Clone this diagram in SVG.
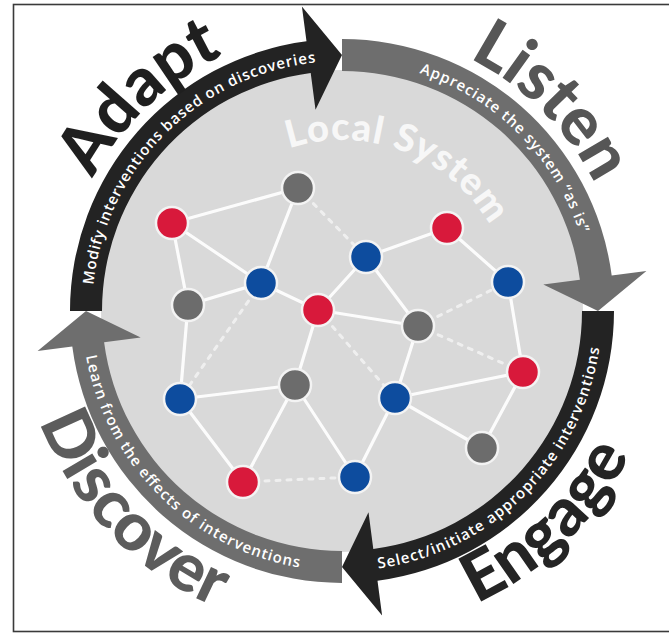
<svg xmlns="http://www.w3.org/2000/svg" width="669" height="638" viewBox="0 0 669 638">
<style>
.big{font-family:"Lato","Open Sans","Liberation Sans",sans-serif;font-weight:900;font-size:67px}
.small{font-family:"Open Sans","Liberation Sans",sans-serif;font-weight:600;font-size:15px;fill:#ffffff}
.edge{stroke:#ffffff;stroke-width:3.2;stroke-linecap:round;opacity:0.92}
.dot{stroke:#ffffff;stroke-width:3;stroke-dasharray:4 7;stroke-linecap:round;opacity:0.6}
.node{stroke:#f3f3f3;stroke-width:2.5}
.red{fill:#d8193b}.blue{fill:#0d4c9e}.grey{fill:#6c6c6c}
.dark{fill:#232323}.mid{fill:#6e6e6e}
</style>
<defs>
<path id="pAdaptS" d="M93.4,284.9 A250,250 0 0,1 315.9,62.4"/>
<path id="pListenS" d="M419.3,73.2 A250,250 0 0,1 579.8,233.7"/>
<path id="pEngageS" d="M378.2,568.5 A260,260 0 0,0 599.5,347.2"/>
<path id="pDiscoverS" d="M86.0,356.1 A260,260 0 0,0 299.1,567.4"/>
<path id="pAdapt" d="M61.8,279.1 A282,282 0 0,1 324.8,29.5"/>
<path id="pListen" d="M366.7,29.1 A283,283 0 0,1 623.9,286.3"/>
<path id="pEngage" d="M364.5,632.2 A322,322 0 0,0 662.2,344.7"/>
<path id="pDiscover" d="M20.6,330.7 A322,322 0 0,0 305.5,630.9"/>
<path id="pLocal" d="M289.2,148.4 A171,171 0 0,1 491.6,228.1"/>
</defs>
<rect x="0" y="0" width="669" height="638" fill="#ffffff"/>
<rect x="13.5" y="4.5" width="700" height="627" fill="none" stroke="#3a3a3a" stroke-width="1.6"/>

<g id="disc">
<circle cx="342" cy="311" r="241" fill="#d9d9d9"/>
<text font-family="Lato,'Open Sans','Liberation Sans',sans-serif" font-weight="900" font-size="38" fill="#f7f7f7"><textPath href="#pLocal" textLength="232" lengthAdjust="spacing">Local System</textPath></text>
</g>

<g id="connectors">
<line class="edge" x1="172" y1="223" x2="298" y2="188"/>
<line class="edge" x1="172" y1="223" x2="261" y2="283"/>
<line class="edge" x1="298" y1="188" x2="261" y2="283"/>
<line class="edge" x1="172" y1="223" x2="188" y2="305"/>
<line class="edge" x1="188" y1="305" x2="261" y2="283"/>
<line class="edge" x1="261" y1="283" x2="318" y2="310"/>
<line class="edge" x1="366" y1="257" x2="447" y2="228"/>
<line class="edge" x1="447" y1="228" x2="508" y2="282"/>
<line class="edge" x1="366" y1="257" x2="318" y2="310"/>
<line class="edge" x1="366" y1="257" x2="418" y2="326"/>
<line class="edge" x1="318" y1="310" x2="418" y2="326"/>
<line class="edge" x1="508" y1="282" x2="523" y2="372"/>
<line class="edge" x1="188" y1="305" x2="180" y2="399"/>
<line class="edge" x1="180" y1="399" x2="295" y2="385"/>
<line class="edge" x1="180" y1="399" x2="243" y2="482"/>
<line class="edge" x1="295" y1="385" x2="243" y2="482"/>
<line class="edge" x1="295" y1="385" x2="355" y2="477"/>
<line class="edge" x1="295" y1="385" x2="318" y2="310"/>
<line class="edge" x1="418" y1="326" x2="395" y2="398"/>
<line class="edge" x1="395" y1="398" x2="523" y2="372"/>
<line class="edge" x1="395" y1="398" x2="482" y2="448"/>
<line class="edge" x1="523" y1="372" x2="482" y2="448"/>
<line class="edge" x1="395" y1="398" x2="355" y2="477"/>
<line class="dot" x1="298" y1="188" x2="366" y2="257"/>
<line class="dot" x1="418" y1="326" x2="523" y2="372"/>
<line class="dot" x1="418" y1="326" x2="508" y2="282"/>
<line class="dot" x1="318" y1="310" x2="395" y2="398"/>
<line class="dot" x1="261" y1="283" x2="180" y2="399"/>
<line class="dot" x1="243" y1="482" x2="355" y2="477"/>
</g>

<g id="n1"><circle class="node grey" cx="298" cy="188" r="16"/></g>
<g id="n2"><circle class="node red" cx="172" cy="223" r="16"/></g>
<g id="n3"><circle class="node blue" cx="261" cy="283" r="16"/></g>
<g id="n4"><circle class="node grey" cx="188" cy="305" r="16"/></g>
<g id="n5"><circle class="node red" cx="318" cy="310" r="16"/></g>
<g id="n6"><circle class="node blue" cx="366" cy="257" r="16"/></g>
<g id="n7"><circle class="node red" cx="447" cy="228" r="16"/></g>
<g id="n8"><circle class="node blue" cx="508" cy="282" r="16"/></g>
<g id="n9"><circle class="node grey" cx="418" cy="326" r="16"/></g>
<g id="n10"><circle class="node red" cx="523" cy="372" r="16"/></g>
<g id="n11"><circle class="node blue" cx="180" cy="399" r="16"/></g>
<g id="n12"><circle class="node grey" cx="295" cy="385" r="16"/></g>
<g id="n13"><circle class="node blue" cx="395" cy="398" r="16"/></g>
<g id="n14"><circle class="node grey" cx="482" cy="448" r="16"/></g>
<g id="n15"><circle class="node red" cx="243" cy="482" r="16"/></g>
<g id="n16"><circle class="node blue" cx="355" cy="477" r="16"/></g>

<g id="adapt">
<path class="dark" d="M70,311 A272,272 0 0,1 306.5,41.3 L301.9,6.6 L342,55 L315.5,109.7 L310.7,73.1 A240,240 0 0,0 102,311 Z"/>
<text class="small"><textPath href="#pAdaptS" textLength="340" lengthAdjust="spacing">Modify interventions based on discoveries</textPath></text>
<text class="big" fill="#1f1f1f" text-anchor="middle"><textPath href="#pAdapt" startOffset="50%">Adapt</textPath></text>
</g>
<g id="listen">
<path class="mid" d="M342,39 A272,272 0 0,1 611.7,275.5 L646.4,270.9 L598,311 L543.3,284.5 L579.9,279.7 A240,240 0 0,0 342,71 Z"/>
<text class="small"><textPath href="#pListenS" textLength="235" lengthAdjust="spacing">Appreciate the system “as is”</textPath></text>
<text class="big" fill="#565656" text-anchor="middle"><textPath href="#pListen" startOffset="50%">Listen</textPath></text>
</g>
<g id="engage">
<path class="dark" d="M614,311 A272,272 0 0,1 377.5,580.7 L382.1,615.4 L342,567 L368.5,512.3 L373.3,548.9 A240,240 0 0,0 582,311 Z"/>
<text class="small"><textPath href="#pEngageS" textLength="335" lengthAdjust="spacing">Select/initiate appropriate interventions</textPath></text>
<text class="big" fill="#242424" text-anchor="middle"><textPath href="#pEngage" startOffset="50%">Engage</textPath></text>
</g>
<g id="discover">
<path class="mid" d="M342,583 A272,272 0 0,1 72.3,346.5 L37.6,351.1 L86,311 L140.7,337.5 L104.1,342.3 A240,240 0 0,0 342,551 Z"/>
<text class="small"><textPath href="#pDiscoverS" textLength="320" lengthAdjust="spacing">Learn from the effects of interventions</textPath></text>
<text class="big" fill="#5c5c5c" text-anchor="middle"><textPath href="#pDiscover" startOffset="50%">Discover</textPath></text>
</g>
</svg>
